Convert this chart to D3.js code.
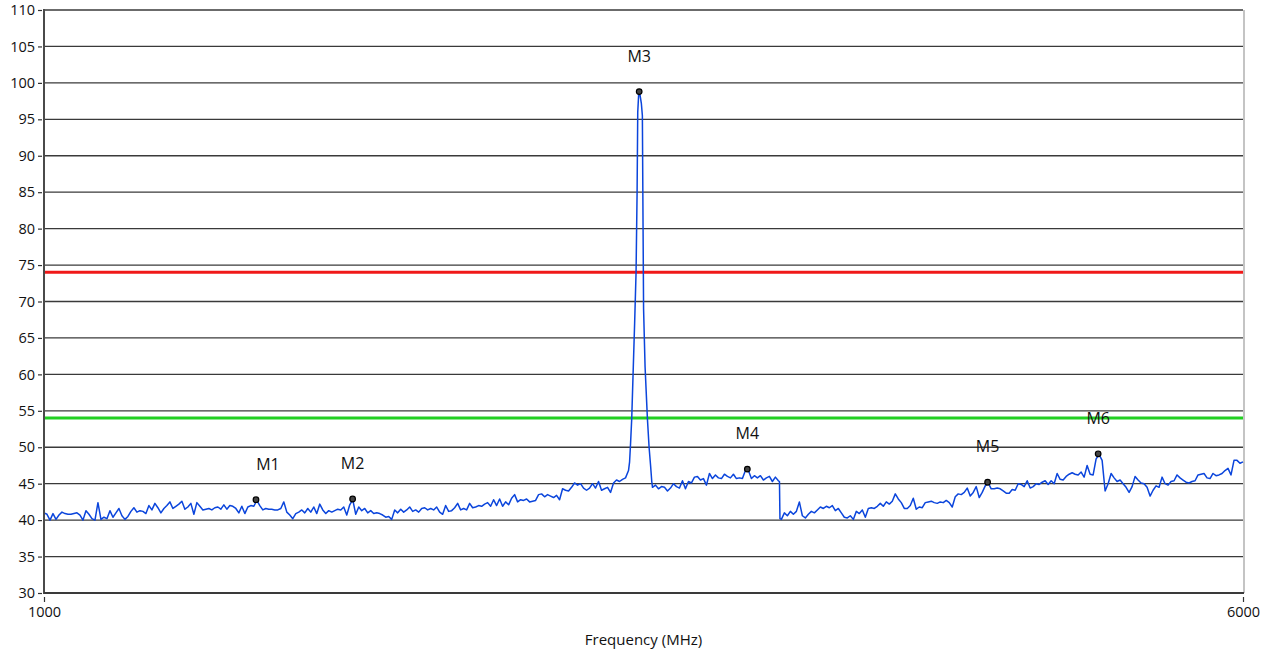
<!DOCTYPE html>
<html><head><meta charset="utf-8">
<script src="https://cdn.jsdelivr.net/npm/d3@7"></script>
<style>
html,body{margin:0;padding:0;background:#fff;}
svg{display:block;font-family:"Open Sans","Noto Sans",sans-serif;}
</style></head>
<body>
<svg id="chart" width="1272" height="654"></svg>
<script>
// ---- data ----
const freqStart = 1000, freqStep = 12.5;   // MHz, uniform sweep grid
const levels = [
41.0,40.8,40.0,40.9,40.1,40.7,41.1,40.9,40.8,40.8,
40.9,41.0,40.7,40.0,41.3,40.8,40.2,40.0,42.4,40.1,
40.4,40.2,41.3,40.4,41.0,41.6,40.6,40.1,40.5,41.2,
41.7,41.1,41.3,41.2,40.9,42.0,41.4,42.3,41.7,41.0,
41.6,42.0,42.5,41.6,41.9,42.2,42.6,41.5,41.8,42.3,
40.8,42.4,41.9,41.4,41.5,41.6,41.4,41.7,41.8,41.5,
42.1,41.5,42.0,41.9,41.6,41.0,41.9,40.9,41.8,42.0,
41.9,42.7,42.0,41.4,41.6,41.5,41.5,41.4,41.4,41.6,
42.5,41.1,40.7,40.2,40.9,41.1,41.4,41.0,41.6,41.1,
41.8,40.9,42.2,41.4,40.9,41.3,41.1,41.3,41.5,41.4,
41.8,40.7,42.1,42.8,40.8,41.8,41.3,41.6,41.0,41.3,
40.9,41.0,40.9,40.7,40.4,40.5,40.1,41.4,41.0,41.5,
41.1,41.4,41.8,41.2,41.4,41.1,41.6,41.7,41.4,41.6,
41.4,41.8,41.1,40.8,42.0,41.2,41.3,41.7,42.3,41.4,
41.6,41.4,42.3,41.7,41.8,42.0,41.9,42.2,42.4,41.9,
42.8,42.0,42.9,41.9,42.5,42.1,43.0,43.5,42.5,42.8,
42.7,42.9,42.5,42.6,42.7,43.5,43.6,43.2,43.5,43.3,
43.1,43.4,42.8,44.3,44.1,44.0,44.5,45.1,44.8,45.0,
44.4,44.1,44.4,45.0,44.4,45.3,44.1,44.3,44.5,43.8,
45.1,45.5,45.3,45.6,45.8,46.8,53.5,67.0,94.0,98.0,
69.0,56.0,49.0,44.5,44.8,44.3,44.6,44.5,44.0,44.4,
45.0,44.6,44.4,45.4,44.3,45.3,45.1,45.9,46.0,45.5,
45.7,44.8,46.4,45.7,46.2,45.8,45.7,46.3,46.0,45.8,
46.3,45.7,45.8,45.7,46.8,46.8,45.7,46.1,45.8,46.1,
45.5,45.8,46.0,45.3,45.9,45.4,40.1,41.0,40.6,41.2,
40.8,41.2,42.5,40.6,40.3,40.8,41.2,41.0,41.4,41.8,
41.6,41.9,41.7,42.0,41.3,41.6,41.0,40.4,40.3,40.6,
40.1,41.2,40.9,41.4,40.4,41.6,41.7,41.6,41.9,42.3,
41.9,42.5,42.2,42.6,43.6,42.9,42.4,41.6,41.6,42.0,
43.0,41.5,41.8,41.7,42.4,42.5,42.6,42.4,42.3,42.5,
42.4,42.7,42.4,41.8,43.2,43.6,43.5,43.8,44.4,43.3,
43.8,44.6,43.1,43.8,44.7,45.1,44.3,44.3,44.4,44.3,
44.0,43.7,43.7,44.2,44.1,45.0,44.9,44.6,45.4,44.4,
44.6,45.0,44.9,45.2,45.4,44.9,45.4,45.0,46.4,45.6,
45.5,46.0,46.3,46.5,46.3,46.2,46.6,45.9,47.5,46.3,
46.2,48.4,49.0,48.2,44.0,45.0,46.4,45.8,45.3,45.5,
45.0,44.5,43.8,44.6,46.0,45.5,45.1,45.0,44.5,43.3,
44.1,44.7,44.5,45.9,45.0,44.8,45.3,45.4,46.2,45.8,
45.5,45.2,45.1,45.3,45.4,46.2,46.3,46.4,45.8,45.7,
46.4,46.1,46.2,46.4,46.8,47.1,46.2,48.2,48.2,47.8,
48.0
];
// finer readings across the carrier and the band-edge step: [MHz, dB]
const peakDetail = [
[3442,48.0],[3446,50.5],[3451,54.0],[3456.5,60.0],[3463,67.0],[3469,74.0],
[3473.3,85.0],[3476,96.0],[3480.3,98.7],[3485.8,98.3],[3491,97.2],[3495.3,95.5],
[3498.2,80.0],[3500.3,69.0],[3506.6,61.0],[3516.2,54.0],[3523.3,50.0],
[3529.5,47.5],[3534.5,45.3]
];
const stepDetail = [[4067,45.3],[4069,40.2]];

const markerNames = ["M1","M2","M3","M4","M5","M6"];
const markerFreq  = [1884,2287,3482,3933,4935,5396];
const markerLevel = [42.8,42.9,98.8,47.0,45.2,49.1];

const limitRed = 74, limitGreen = 54;
const yTicks = [30,35,40,45,50,55,60,65,70,75,80,85,90,95,100,105,110];
const xTicks = [1000,6000];
const xTitle = "Frequency (MHz)";

// ---- build trace ----
let trace = levels.map((v,i)=>[freqStart + i*freqStep, v])
  .filter(d => !(d[0] > 3440 && d[0] < 3537));
trace = trace.concat(peakDetail, stepDetail).sort((a,b)=>a[0]-b[0]);

// ---- layout ----
const svg = d3.select("#chart");
const L = 44, R = 1243, T = 10, B = 593;
const x = d3.scaleLinear().domain([1000,6000]).range([L,R]);
const y = d3.scaleLinear().domain([30,110]).range([B,T]);

// right border
svg.append("line").attr("x1",R+1).attr("x2",R+1).attr("y1",T).attr("y2",B)
  .attr("stroke","#b0b0b0").attr("stroke-width",1.5);

// gridlines
svg.append("g").selectAll("line").data(yTicks).join("line")
  .attr("x1",L).attr("x2",R).attr("y1",d=>y(d)).attr("y2",d=>y(d))
  .attr("stroke","#3a3a3a").attr("stroke-width",1.3);

// limit lines
svg.append("line").attr("x1",L).attr("x2",R).attr("y1",y(limitRed)).attr("y2",y(limitRed))
  .attr("stroke","#f01818").attr("stroke-width",3);
svg.append("line").attr("x1",L).attr("x2",R).attr("y1",y(limitGreen)).attr("y2",y(limitGreen))
  .attr("stroke","#22d022").attr("stroke-width",3);

// trace
svg.append("path").datum(trace)
  .attr("d", d3.line().x(d=>x(d[0])).y(d=>y(d[1])))
  .attr("fill","none").attr("stroke","#0b45dc").attr("stroke-width",1.5)
  .attr("stroke-linejoin","round");

// markers
const mk = markerNames.map((n,i)=>({n, f:markerFreq[i], v:markerLevel[i]}));
svg.append("g").selectAll("circle").data(mk).join("circle")
  .attr("cx",d=>x(d.f)).attr("cy",d=>y(d.v)).attr("r",2.8)
  .attr("fill","#444").attr("stroke","#000").attr("stroke-width",1.2);
svg.append("g").selectAll("text").data(mk).join("text")
  .attr("x",(d,i)=>x(d.f) + (i===0 ? 12 : 0)).attr("y",d=>y(d.v)-30)
  .attr("text-anchor","middle").attr("font-size",16).attr("fill","#111")
  .text(d=>d.n);

// axes
const yAxis = svg.append("g").attr("transform",`translate(${L-2},0)`)
  .call(d3.axisLeft(y).tickValues(yTicks).tickSize(4).tickPadding(3).tickFormat(d3.format("d")));
yAxis.select(".domain").remove();
yAxis.selectAll("line").attr("stroke","#333").attr("stroke-width",1.2);
yAxis.selectAll("text").attr("font-size",14.5).attr("fill","#111")
  .attr("font-family","'Open Sans','Noto Sans',sans-serif");

const xAxis = svg.append("g").attr("transform",`translate(0,${B+4})`)
  .call(d3.axisBottom(x).tickValues(xTicks).tickSize(5).tickPadding(5).tickFormat(d3.format("d")));
xAxis.select(".domain").remove();
xAxis.selectAll("line").attr("stroke","#333").attr("stroke-width",1.2);
xAxis.selectAll("text").attr("font-size",14.5).attr("fill","#111")
  .attr("font-family","'Open Sans','Noto Sans',sans-serif");

// axis lines
svg.append("line").attr("x1",L).attr("x2",L).attr("y1",T-1).attr("y2",B+1)
  .attr("stroke","#4a4a4a").attr("stroke-width",2);
svg.append("line").attr("x1",L).attr("x2",R+1).attr("y1",B).attr("y2",B)
  .attr("stroke","#3a3a3a").attr("stroke-width",2);

svg.append("text").attr("x",(L+R)/2).attr("y",645).attr("text-anchor","middle")
  .attr("font-size",15).attr("fill","#111").text(xTitle);
</script>
</body></html>
